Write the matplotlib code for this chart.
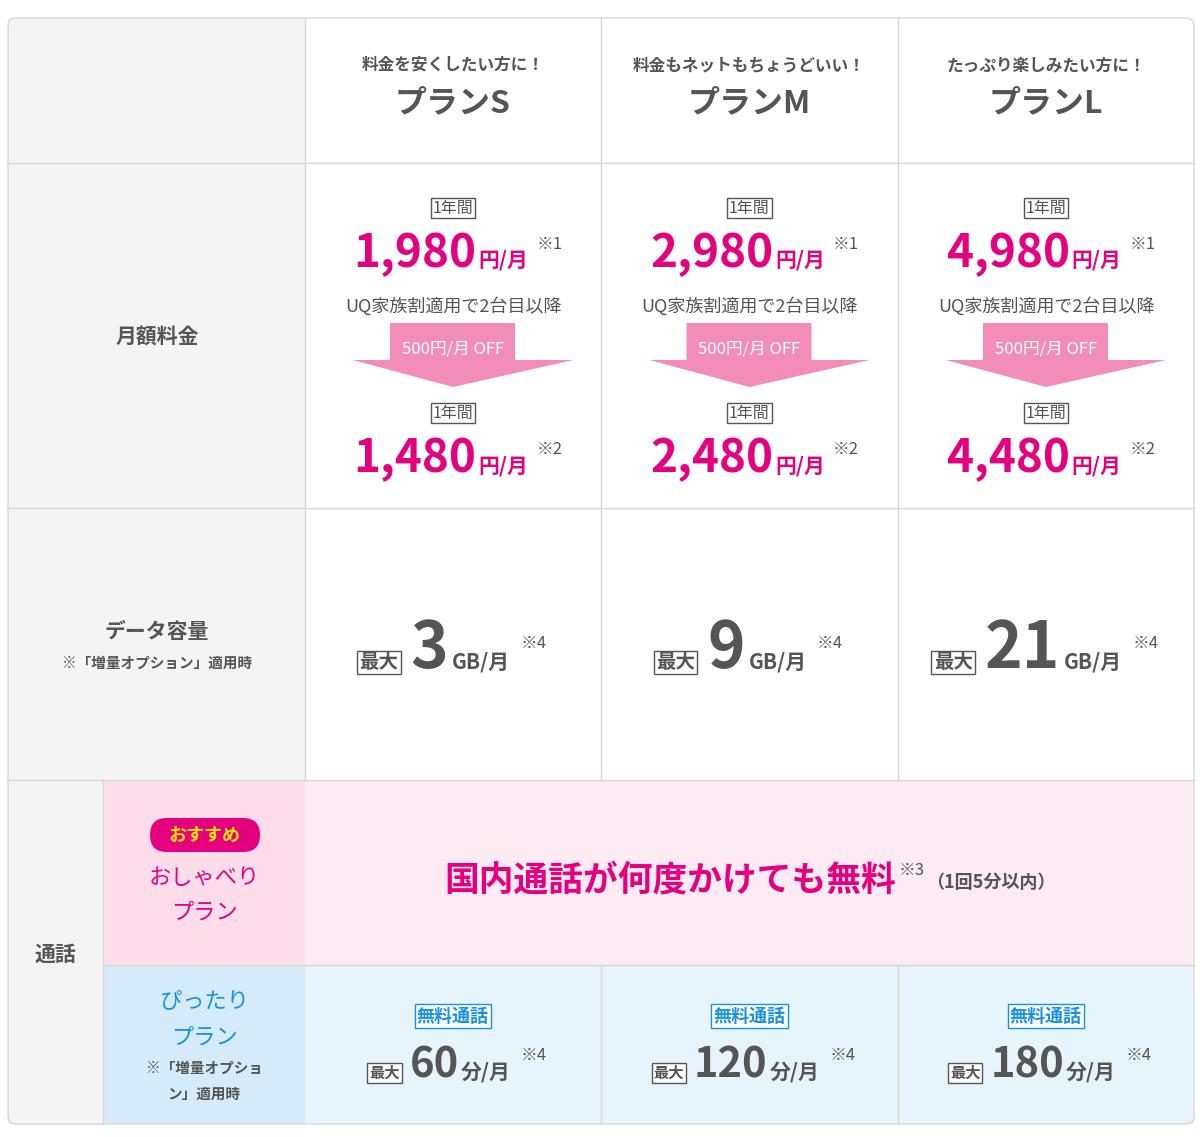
import matplotlib
matplotlib.use("Agg")
import matplotlib.pyplot as plt
from matplotlib.patches import Rectangle, FancyBboxPatch, Polygon

plt.rcParams["font.family"] = "Noto Sans CJK JP"

taglines = ["料金を安くしたい方に！", "料金もネットもちょうどいい！", "たっぷり楽しみたい方に！"]
plans = ["プランS", "プランM", "プランL"]
prices = ["1,980", "2,980", "4,980"]
family_prices = ["1,480", "2,480", "4,480"]
discount = "500円/月 OFF"
data_gb = ["3", "9", "21"]
call_minutes = ["60", "120", "180"]

MAG = "#e4007f"; GRAY = "#555555"; BLUE = "#1a92e0"
W, H = 1200, 1137
fig = plt.figure(figsize=(12, 11.37), dpi=100)
ax = fig.add_axes([0, 0, 1, 1]); ax.set_xlim(0, W); ax.set_ylim(H, 0); ax.axis("off")
R = fig.canvas.get_renderer()

L, Rr, T, B = 8, 1194, 18, 1124
cols = [305, 601, 898, Rr]
cx = [(cols[i] + cols[i+1]) / 2 for i in range(3)]
rows = [T, 163, 508, 780, 965, B]

def rect(x0, y0, x1, y1, fc):
    ax.add_patch(Rectangle((x0, y0), x1-x0, y1-y0, fc=fc, ec="none", zorder=0))

rect(L, T, Rr, B, "white")
rect(L, T, 305, 780, "#f4f4f4")
rect(L, 780, 103, B, "#f4f4f4")
rect(103, 780, 305, 965, "#fcdde9")
rect(305, 780, Rr, 965, "#fcebf2")
rect(103, 965, 305, B, "#d5ebfa")
rect(305, 965, Rr, B, "#e6f4fc")
lc = "#d8d8d8"
for y in rows[1:4]:
    ax.plot([L, Rr], [y, y], color=lc, lw=1)
ax.plot([103, Rr], [965, 965], color=lc, lw=1)
for x in cols[:3]:
    ax.plot([x, x], [T, 780], color=lc, lw=1)
for x in cols[1:3]:
    ax.plot([x, x], [965, B], color=lc, lw=1)
ax.plot([103, 103], [780, B], color=lc, lw=1)
ax.add_patch(FancyBboxPatch((L, T), Rr-L, B-T, boxstyle="round,pad=0,rounding_size=8", fc="none", ec=lc, lw=1))

def box(c):
    return dict(boxstyle="square,pad=0.12", fc="white", ec=c, lw=1)

def group(xc, y, pieces):
    # pieces: (text, kwargs, gap_before, dy)
    ts = []
    for t, kw, g, dy in pieces:
        tt = ax.text(0, y + dy, t, ha="left", va="baseline", **kw)
        ts.append((tt, g))
    widths = [tt.get_window_extent(R).width for tt, _ in ts]
    total = sum(widths) + sum(g for _, g in ts)
    x = xc - total / 2
    for (tt, g), w in zip(ts, widths):
        x += g
        tt.set_x(x); x += w

for i in range(3):
    c = cx[i]
    ax.text(c, 65, taglines[i], ha="center", va="center", fontsize=12, color=GRAY, fontweight="bold")
    ax.text(c, 103, plans[i], ha="center", va="center", fontsize=23, color=GRAY, fontweight="bold")
    for yb, yp, p, mk in [(208, 267, prices[i], "※1"), (413, 472, family_prices[i], "※2")]:
        ax.text(c, yb, "1年間", ha="center", va="center", fontsize=11.5, color=GRAY, bbox=box(GRAY))
        group(c + 5, yp, [(p, dict(fontsize=33, color=MAG, fontweight="bold"), 0, 0),
                          ("円/月", dict(fontsize=15, color=MAG, fontweight="bold"), 2, 0),
                          (mk, dict(fontsize=12, color=GRAY), 8, -18)])
    ax.text(c, 306, "UQ家族割適用で2台目以降", ha="center", va="center", fontsize=13, color=GRAY)
    ax.add_patch(Polygon([(c-63, 323), (c+62, 323), (c+62, 360), (c+120, 360), (c, 387),
                          (c-100, 360), (c-63, 360)], closed=True, fc="#f28cb9", ec="none"))
    ax.text(c, 349, discount, ha="center", va="center", fontsize=12, color="white")
    group(c, 668, [("最大", dict(fontsize=14, color=GRAY, fontweight="bold", bbox=box(GRAY)), 0, 0),
                   (data_gb[i], dict(fontsize=46, color=GRAY, fontweight="bold"), 12, 0),
                   ("GB/月", dict(fontsize=15, color=GRAY, fontweight="bold"), 4, 0),
                   ("※4", dict(fontsize=12, color=GRAY), 10, -20)])
    ax.text(c, 1016, "無料通話", ha="center", va="center", fontsize=13, color=BLUE,
            fontweight="bold", bbox=box(BLUE))
    group(c + 5, 1078, [("最大", dict(fontsize=11, color=GRAY, fontweight="bold", bbox=box(GRAY)), 0, 0),
                        (call_minutes[i], dict(fontsize=30, color=GRAY, fontweight="bold"), 10, 0),
                        ("分/月", dict(fontsize=15, color=GRAY, fontweight="bold"), 2, 0),
                        ("※4", dict(fontsize=12, color=GRAY), 10, -18)])

ax.text(157, 337, "月額料金", ha="center", va="center", fontsize=15, color=GRAY, fontweight="bold")
ax.text(157, 632, "データ容量", ha="center", va="center", fontsize=15, color=GRAY, fontweight="bold")
ax.text(157, 663, "※「増量オプション」適用時", ha="center", va="center", fontsize=10.5, color=GRAY, fontweight="bold")
ax.text(55, 954, "通話", ha="center", va="center", fontsize=15, color=GRAY, fontweight="bold")

ax.add_patch(FancyBboxPatch((150, 818), 110, 34, boxstyle="round,pad=0,rounding_size=17", fc=MAG, ec="none"))
ax.text(204, 835, "おすすめ", ha="center", va="center", fontsize=13, color="#ffe600", fontweight="bold")
ax.text(204, 877, "おしゃべり", ha="center", va="center", fontsize=16, color=MAG)
ax.text(204, 912, "プラン", ha="center", va="center", fontsize=16, color=MAG)
ax.text(204, 1001, "ぴったり", ha="center", va="center", fontsize=16, color=BLUE)
ax.text(204, 1037, "プラン", ha="center", va="center", fontsize=16, color=BLUE)
ax.text(204, 1068, "※「増量オプショ", ha="center", va="center", fontsize=10.5, color=GRAY, fontweight="bold")
ax.text(204, 1094, "ン」適用時", ha="center", va="center", fontsize=10.5, color=GRAY, fontweight="bold")

group(750, 890, [("国内通話が何度かけても無料", dict(fontsize=25, color=MAG, fontweight="bold"), 0, 0),
                 ("※3", dict(fontsize=12, color=GRAY), 2, -15),
                 ("（1回5分以内）", dict(fontsize=13, color=GRAY, fontweight="bold"), 2, -2)])

fig.savefig("out.png", dpi=100)
